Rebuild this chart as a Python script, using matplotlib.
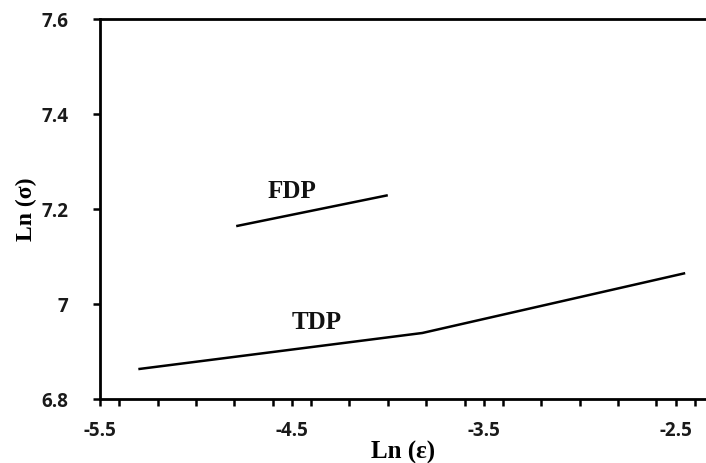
import matplotlib.pyplot as plt
from matplotlib.ticker import MultipleLocator

plt.rcParams['axes.unicode_minus'] = False

# TDP and FDP curves
tdp_x = [-5.30, -3.82, -2.45]
tdp_y = [6.863, 6.939, 7.065]
fdp_x = [-4.79, -4.00]
fdp_y = [7.164, 7.229]

x_ticks = [-5.5, -4.5, -3.5, -2.5]
x_tick_labels = ['-5.5', '-4.5', '-3.5', '-2.5']
y_ticks = [6.8, 7.0, 7.2, 7.4, 7.6]
y_tick_labels = ['6.8', '7', '7.2', '7.4', '7.6']

fig = plt.figure(figsize=(7.06, 4.63), dpi=100)
ax = fig.add_axes([0.1416, 0.1382, 0.858, 0.8207])

# the two curves
ax.plot(tdp_x, tdp_y, color='black', lw=1.8, solid_capstyle='butt')
ax.plot(fdp_x, fdp_y, color='black', lw=1.8, solid_capstyle='butt')

# curve labels
ax.text(-4.5, 7.236, 'FDP', family='Liberation Serif', fontweight='bold',
        fontsize=18, ha='center', va='center', color='#111111')
ax.text(-4.37, 6.962, 'TDP', family='Liberation Serif', fontweight='bold',
        fontsize=18, ha='center', va='center', color='#111111')

ax.set_xlim(-5.5, -2.343)
ax.set_ylim(6.8, 7.6)

ax.set_xticks(x_ticks)
ax.set_xticklabels(x_tick_labels)
ax.xaxis.set_minor_locator(MultipleLocator(0.2))
ax.set_yticks(y_ticks)
ax.set_yticklabels(y_tick_labels)

for lab in ax.get_xticklabels() + ax.get_yticklabels():
    lab.set_family('Open Sans')
    lab.set_fontweight('bold')
    lab.set_fontsize(13.5)
    lab.set_color('#1a1a1a')

ax.tick_params(axis='both', which='both', direction='out', width=1.8, length=5)
ax.tick_params(axis='x', pad=11)
ax.tick_params(axis='y', pad=18)

for side in ['left', 'bottom', 'top']:
    ax.spines[side].set_linewidth(2)
ax.spines['right'].set_visible(False)

ax.set_xlabel('Ln (ε)', family='Liberation Serif', fontweight='bold', fontsize=18, labelpad=0)
ax.set_ylabel('Ln (σ)', family='Liberation Serif', fontweight='bold', fontsize=17, labelpad=3)

plt.savefig('out.png', dpi=100)
